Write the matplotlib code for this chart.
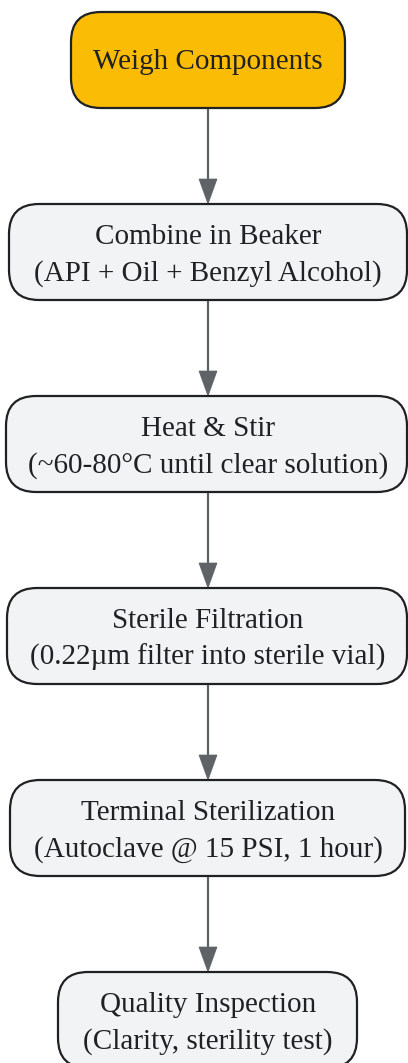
import matplotlib
matplotlib.use("Agg")
import matplotlib.pyplot as plt
from matplotlib.patches import FancyBboxPatch, Polygon

# ---- data ----
steps = [
    "Weigh Components",
    "Combine in Beaker\n(API + Oil + Benzyl Alcohol)",
    "Heat & Stir\n(~60-80°C until clear solution)",
    "Sterile Filtration\n(0.22µm filter into sterile vial)",
    "Terminal Sterilization\n(Autoclave @ 15 PSI, 1 hour)",
    "Quality Inspection\n(Clarity, sterility test)",
]
fills = ["#FBBC05", "#F1F3F4", "#F1F3F4", "#F1F3F4", "#F1F3F4", "#F1F3F4"]

# ---- layout (pixels) ----
W, H = 408, 1063
box_left = [71, 9, 6, 7, 10, 58]
box_right = [345, 407, 407, 407, 405, 357]
box_top = [12, 204, 396, 588, 780, 972]
box_h = 96
cx = 208
edge = "#202124"
arrow_c = "#5F6368"

fig = plt.figure(figsize=(W / 100, H / 100), dpi=100)
ax = fig.add_axes([0, 0, 1, 1])
ax.set_xlim(0, W)
ax.set_ylim(H, 0)
ax.axis("off")

for i, (lab, fc) in enumerate(zip(steps, fills)):
    x0, x1, y0 = box_left[i], box_right[i], box_top[i]
    p = FancyBboxPatch((x0, y0), x1 - x0, box_h,
                       boxstyle="round,pad=0,rounding_size=30",
                       fc=fc, ec=edge, lw=1.6, zorder=2, clip_on=False)
    ax.add_patch(p)
    lines = lab.split("\n")
    yc = y0 + box_h / 2
    if len(lines) == 1:
        baselines = [yc + 9]
    else:
        baselines = [yc - 7.5, yc + 28.5]
    for ln, yb in zip(lines, baselines):
        ax.text(cx, yb, ln, ha="center", va="baseline", fontsize=21,
                family="Liberation Serif", color="#202124", zorder=3)

# arrows
hl, hw = 25, 9
for i in range(len(steps) - 1):
    y_start = box_top[i] + box_h
    y_end = box_top[i + 1]
    ax.plot([cx, cx], [y_start, y_end - hl + 2], color=arrow_c, lw=1.6,
            solid_capstyle="butt", zorder=1)
    tri = Polygon([[cx - hw, y_end - hl], [cx + hw, y_end - hl], [cx, y_end]],
                  closed=True, fc=arrow_c, ec=arrow_c, lw=0.5, zorder=1)
    ax.add_patch(tri)

fig.savefig("out.png", dpi=100, facecolor="white")
